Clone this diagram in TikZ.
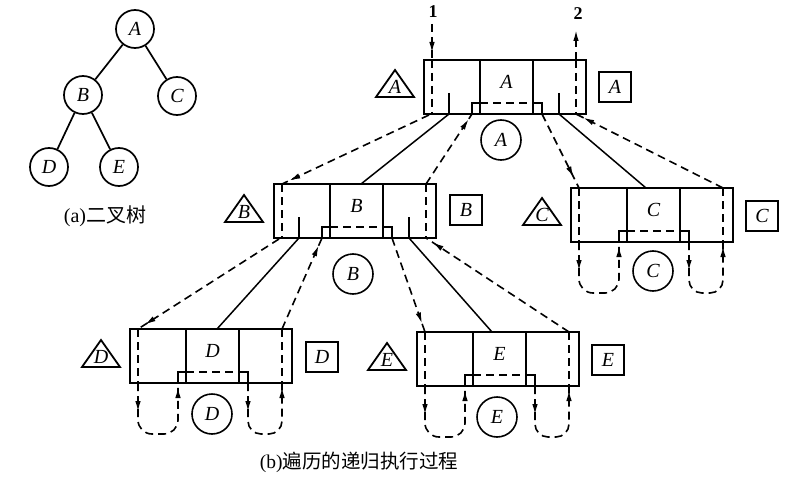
\documentclass[tikz,border=0pt]{standalone}
\usepackage{fontspec}
\setmainfont{Liberation Serif}
\newfontfamily\cjk{Noto Sans CJK SC}
\usetikzlibrary{arrows.meta,decorations.markings}
\tikzset{
  boxln/.style={line width=1.8pt},
  divln/.style={line width=1.5pt},
  dln/.style={line width=1.6pt,dash pattern=on 8pt off 5pt},
  sln/.style={line width=1.5pt},
  let/.style={font=\fontsize{20}{20}\selectfont\itshape,inner sep=0pt},
  circ/.style={circle,draw,line width=1.6pt,minimum size=40pt,inner sep=0pt,font=\fontsize{20}{20}\selectfont\itshape},
  tcirc/.style={circle,draw,line width=1.7pt,minimum size=38pt,inner sep=0pt,font=\fontsize{20}{20}\selectfont\itshape},
  sq/.style={draw,line width=1.8pt,minimum width=32pt,minimum height=30pt,inner sep=0pt,font=\fontsize{20}{20}\selectfont\itshape},
  numlab/.style={font=\fontsize{18}{18}\selectfont\bfseries,inner sep=0pt},
  captxt/.style={inner sep=0pt},
  ltip/.tip={Latex[length=11pt,width=5.5pt]},
  arrat/.style={postaction={decorate,decoration={markings,mark=at position #1 with {\arrow{ltip}}}}},
  looparr/.style={postaction={decorate,decoration={markings,
     mark=at position 29pt with {\arrow{ltip}},
     mark=at position -4pt with {\arrow{ltip}}}}},
}
\newcommand\recbox[5]{%
\begin{scope}[shift={(#2,#3)}]
  \draw[boxln] (0,0) rectangle (162,54);
  \draw[divln] (56,0) -- (56,54) (109,0) -- (109,54);
  \draw[boxln] (48,54) -- (48,43) -- (56,43);
  \draw[dln] (56,43) -- (109,43);
  \draw[boxln] (109,43) -- (118,43) -- (118,54);
  \draw[dln] (8,0) -- (8,54);
  \draw[dln] (152,0) -- (152,54);
  \node[let] (#1) at (82.5,22) {#4};
  \coordinate (#1-lt) at (8,0);
  \coordinate (#1-lb) at (5,55);
  \coordinate (#1-rt) at (152,0);
  \coordinate (#1-rb) at (152,54);
  \coordinate (#1-nl) at (48,54);
  \coordinate (#1-nr) at (118,54);
  \coordinate (#1-t1) at (25,54);
  \coordinate (#1-t2) at (135,54);
  \coordinate (#1-ml) at (87,0);
  \coordinate (#1-mr) at (75,0);
  \ifnum#5=1
    \draw[divln] (25,33) -- (25,54) (135,33) -- (135,54);
  \else
    \draw[dln,looparr,rounded corners=14pt] (8,54) -- (8,105) -- (48,105) -- (48,54);
    \draw[dln,looparr,rounded corners=13pt] (118,54) -- (118,105) -- (152,105) -- (152,54);
  \fi
\end{scope}}
\newcommand\tribox[4]{% name, base-centre x, y, letter
\begin{scope}[shift={(#2,#3)}]
  \draw[line width=1.8pt,line join=miter] (-19,0) -- (19,0) -- (0,-27) -- cycle;
  \node[let] (#1) at (0,-10) {#4};
\end{scope}}
\begin{document}
\begin{tikzpicture}[x=1pt,y=-1pt]
\path[fill=white] (0,0) rectangle (797,484);
\useasboundingbox (0,0) rectangle (797,484);
% (a) binary tree
\node[tcirc] (tA) at (135,29) {A};
\node[tcirc] (tB) at (83,95) {B};
\node[tcirc] (tC) at (177,96) {C};
\node[tcirc] (tD) at (49,167) {D};
\node[tcirc] (tE) at (119,167) {E};
\draw[sln,line width=1.7pt] (tA) -- (tB);
\draw[sln,line width=1.7pt] (tA) -- (tC);
\draw[sln,line width=1.7pt] (tB) -- (tD);
\draw[sln,line width=1.7pt] (tB) -- (tE);
\node[captxt] (capa) at (105,216) {\fontsize{20}{20}\selectfont(a)\cjk 二叉树};
% (b) recursion boxes
\recbox{bA}{424}{60}{A}{1}
\recbox{bB}{274}{184}{B}{1}
\recbox{bC}{571}{188}{C}{0}
\recbox{bD}{130}{329}{D}{0}
\recbox{bE}{417}{332}{E}{0}
\tribox{triA}{395}{97}{A}
\tribox{triB}{244}{222}{B}
\tribox{triC}{542}{225}{C}
\tribox{triD}{101}{367}{D}
\tribox{triE}{387}{370}{E}
\node[sq] (sqA) at (615,87) {A};
\node[sq] (sqB) at (466,210) {B};
\node[sq] (sqC) at (762,216) {C};
\node[sq] (sqD) at (322,357) {D};
\node[sq] (sqE) at (608,360) {E};
\node[circ] (cA) at (501,140) {A};
\node[circ] (cB) at (353,274) {B};
\node[circ] (cC) at (653,271) {C};
\node[circ] (cD) at (212,414) {D};
\node[circ] (cE) at (497,417) {E};
% entry / exit
\node[numlab] (n1) at (433,12) {1};
\node[numlab] (n2) at (578,14) {2};
\coordinate (in1) at (432,24);
\coordinate (out2) at (576,30);
\draw[dln,arrat=-7pt] (in1) -- (bA-lt);
\draw[dln,-ltip] (bA-rt) -- (out2);
% A <-> B, C
\draw[dln,arrat=-8pt] (bA-lb) -- (bB-lt);
\draw[sln] (bA-t1) -- (bB-ml);
\draw[dln,arrat=-6pt] (bB-rt) -- (bA-nl);
\draw[dln,arrat=-12pt] (bA-nr) -- (bC-lt);
\draw[sln] (bA-t2) -- (bC-mr);
\draw[dln,arrat=-8pt] (bC-rt) -- (bA-rb);
% B <-> D, E
\draw[dln,arrat=-8pt] (bB-lb) -- (bD-lt);
\draw[sln] (bB-t1) -- (bD-ml);
\draw[dln,arrat=-8pt] (bD-rt) -- (bB-nl);
\draw[dln,arrat=-9pt] (bB-nr) -- (bE-lt);
\draw[sln] (bB-t2) -- (bE-mr);
\draw[dln,arrat=-8pt] (bE-rt) -- (bB-rb);
\node[captxt] (capb) at (359,462) {\fontsize{19.5}{20}\selectfont(b)\cjk 遍历的递归执行过程};
\end{tikzpicture}
\end{document}
